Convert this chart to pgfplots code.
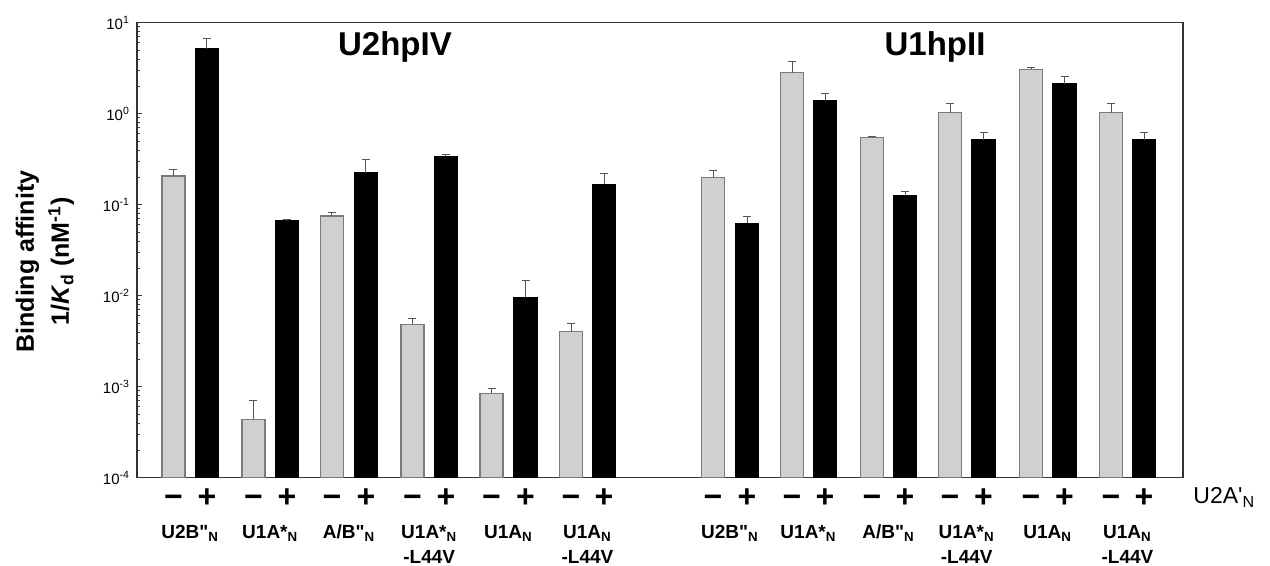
\documentclass[border=0pt]{standalone}
\usepackage{fontspec}
\setmainfont{Liberation Sans}[Ligatures=TeXOff]
\usepackage{pgfplots}
\pgfplotsset{compat=1.18}

\definecolor{barGray}{HTML}{D0D0D0}
\definecolor{edgeGray}{HTML}{7A7A7A}
\definecolor{errGray}{HTML}{555555}

\begin{document}
\begin{tikzpicture}
  \begin{axis}[
    name=ax, scale only axis, width=523pt, height=227.5pt,
    xmin=137, xmax=1183,
    ymode=log, ymin=1e-4, ymax=10, log origin=infty,
    axis line style={black!80, line width=0.7pt},
    tick pos=left, tick align=inside,
    major tick length=2.5pt, minor tick length=1.5pt,
    tick style={black!75, line width=0.4pt},
    ytick={1e-4,1e-3,1e-2,1e-1,1,10},
    yticklabels={10\textsuperscript{-4},10\textsuperscript{-3},10\textsuperscript{-2},10\textsuperscript{-1},10\textsuperscript{0},10\textsuperscript{1}},
    yticklabel style={font=\fontsize{7.5}{8}\selectfont},
    xtick={173.5,207,253.5,287,332,366,412.5,446,491.5,525.5,571,604,713,747,792,825,872,905,950,983.5,1031,1064.5,1111,1144},
    xticklabels={−,+,−,+,−,+,−,+,−,+,−,+,−,+,−,+,−,+,−,+,−,+,−,+},
    xtick style={draw=none},
    xticklabel style={font=\fontsize{16}{16}\selectfont\bfseries, anchor=base, inner sep=0pt, yshift=-14.8pt},
    bar width=23,
    clip=false,
  ]
    % without U2A'N
    \addplot[ybar, bar shift=0pt, fill=barGray, draw=edgeGray, line width=0.6pt,
      error bars/.cd, y dir=plus, y explicit,
      error bar style={errGray, line width=0.5pt},
      error mark options={rotate=90, mark size=2pt, errGray, line width=0.5pt}]
      coordinates {
        (173.5,0.207) +- (0,0.039)
        (253.5,0.00044) +- (0,0.00026)
        (332,0.0752) +- (0,0.007)
        (412.5,0.00484) +- (0,0.0008)
        (491.5,0.00085) +- (0,0.00011)
        (571,0.00402) +- (0,0.0009)
        (713,0.20) +- (0,0.04)
        (792,2.82) +- (0,0.90)
        (872,0.545) +- (0,0.015)
        (950,1.03) +- (0,0.27)
        (1031,3.08) +- (0,0.12)
        (1111,1.03) +- (0,0.27)
      };
    % with U2A'N
    \addplot[ybar, bar shift=0pt, fill=black, draw=black, line width=0.6pt,
      error bars/.cd, y dir=plus, y explicit,
      error bar style={errGray, line width=0.5pt},
      error mark options={rotate=90, mark size=2pt, errGray, line width=0.5pt}]
      coordinates {
        (207,5.14) +- (0,1.56)
        (287,0.0662) +- (0,0.003)
        (366,0.225) +- (0,0.085)
        (446,0.34) +- (0,0.02)
        (525.5,0.0096) +- (0,0.005)
        (604,0.1675) +- (0,0.054)
        (747,0.0623) +- (0,0.012)
        (825,1.38) +- (0,0.30)
        (905,0.1257) +- (0,0.013)
        (983.5,0.514) +- (0,0.106)
        (1064.5,2.12) +- (0,0.43)
        (1144,0.514) +- (0,0.106)
      };

    \node[anchor=base, font=\fontsize{16.5}{18}\selectfont\bfseries] at (axis cs:395,4.4) {U2hpIV};
    \node[anchor=base, font=\fontsize{16.5}{18}\selectfont\bfseries] at (axis cs:935,4.4) {U1hpII};

    \begin{scope}[every node/.style={anchor=north, align=center, inner sep=0pt,
        font=\fontsize{9.5}{12.5}\selectfont\bfseries}]
      \node at ([yshift=-23.5pt]axis cs:190.25,1e-4) {U2B"\textsubscript{N}};
      \node at ([yshift=-23.5pt]axis cs:270.25,1e-4) {U1A*\textsubscript{N}};
      \node at ([yshift=-23.5pt]axis cs:349,1e-4) {A/B"\textsubscript{N}};
      \node at ([yshift=-23.5pt]axis cs:429.25,1e-4) {U1A*\textsubscript{N}\\-L44V};
      \node at ([yshift=-23.5pt]axis cs:508.5,1e-4) {U1A\textsubscript{N}};
      \node at ([yshift=-23.5pt]axis cs:587.5,1e-4) {U1A\textsubscript{N}\\-L44V};
      \node at ([yshift=-23.5pt]axis cs:730,1e-4) {U2B"\textsubscript{N}};
      \node at ([yshift=-23.5pt]axis cs:808.5,1e-4) {U1A*\textsubscript{N}};
      \node at ([yshift=-23.5pt]axis cs:888.5,1e-4) {A/B"\textsubscript{N}};
      \node at ([yshift=-23.5pt]axis cs:966.75,1e-4) {U1A*\textsubscript{N}\\-L44V};
      \node at ([yshift=-23.5pt]axis cs:1047.75,1e-4) {U1A\textsubscript{N}};
      \node at ([yshift=-23.5pt]axis cs:1127.5,1e-4) {U1A\textsubscript{N}\\-L44V};
    \end{scope}

    \node[anchor=base west, inner sep=0pt, font=\fontsize{11.5}{12}\selectfont] at ([xshift=5pt,yshift=-13pt]axis cs:1183,1e-4) {U2A'\textsubscript{N}};

    \node[rotate=90, align=center, font=\fontsize{12.5}{17.5}\selectfont\bfseries]
      at ([xshift=-46pt]rel axis cs:0,0.475) {Binding affinity\\1/\textit{K}\textsubscript{d} (nM\textsuperscript{-1})};
  \end{axis}
  \pgfresetboundingbox
  \path[use as bounding box] ([xshift=-68.5pt,yshift=-44pt]ax.south west) rectangle ([xshift=43.5pt,yshift=11.35pt]ax.north east);
\end{tikzpicture}
\end{document}
